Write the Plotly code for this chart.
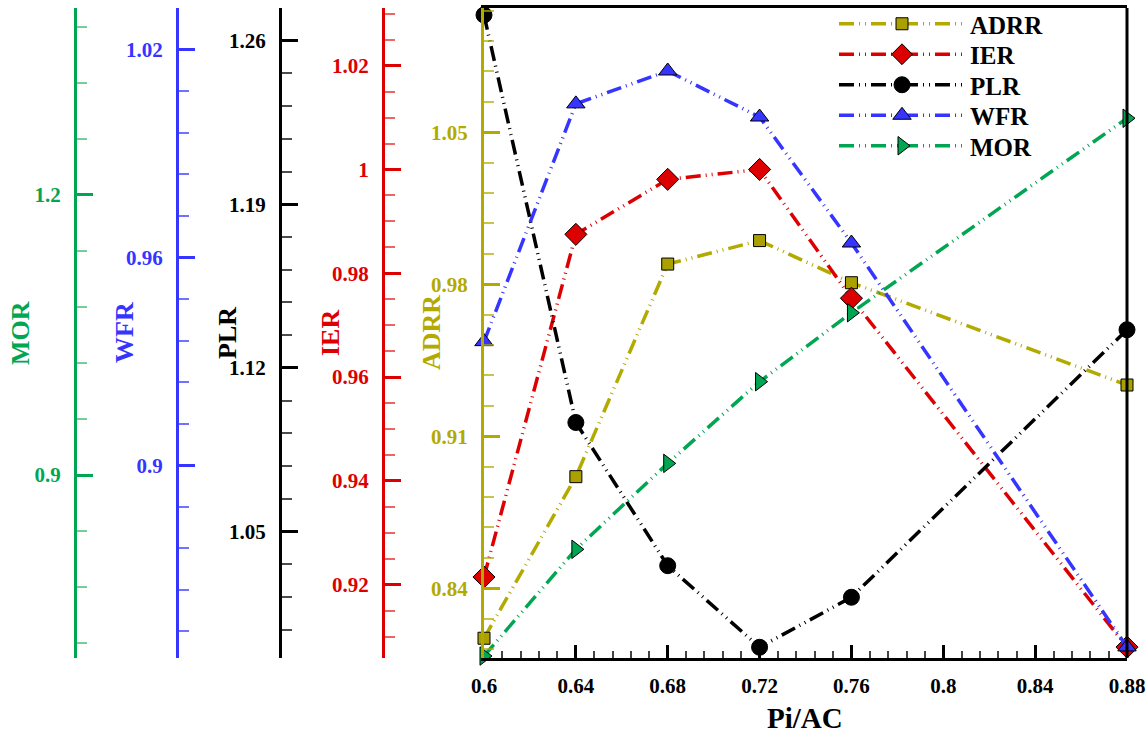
import plotly.graph_objects as go

# ---------------- data ----------------
pi_ac = [0.6, 0.64, 0.68, 0.72, 0.76, 0.88]
adrr = [0.8170, 0.8914, 0.9893, 1.0001, 0.9807, 0.9336]
ier = [0.9215, 0.9875, 0.9981, 1.0000, 0.9752, 0.9080]
plr = [1.2710, 1.0966, 1.0353, 1.0004, 1.0218, 1.1363]
wfr = [0.9357, 1.0044, 1.0139, 1.0006, 0.9642, 0.8475]
mor = [0.7063, 0.8205, 0.9125, 0.9999, 1.0737, 1.2818]

x_ticks = [0.6, 0.64, 0.68, 0.72, 0.76, 0.8, 0.84, 0.88]
x_labels = ["0.6", "0.64", "0.68", "0.72", "0.76", "0.8", "0.84", "0.88"]
adrr_ticks = [0.84, 0.91, 0.98, 1.05]
adrr_labels = ["0.84", "0.91", "0.98", "1.05"]
ier_ticks = [0.92, 0.94, 0.96, 0.98, 1.0, 1.02]
ier_labels = ["0.92", "0.94", "0.96", "0.98", "1", "1.02"]
plr_ticks = [1.05, 1.12, 1.19, 1.26]
plr_labels = ["1.05", "1.12", "1.19", "1.26"]
wfr_ticks = [0.9, 0.96, 1.02]
wfr_labels = ["0.9", "0.96", "1.02"]
mor_ticks = [0.9, 1.2]
mor_labels = ["0.9", "1.2"]

# ---------------- style ----------------
W, H = 1148, 735
PLOT_TOP, PLOT_BOTTOM = 8, 658
OLIVE = "#B3AA00"
OLIVE_M = "#AAA000"
RED = "#DD0000"
BLACK = "#000000"
BLUE = "#3535FF"
GREEN = "#00A651"
FONT = "Liberation Serif"
DASH = "15px,5px,1px,5px,1px,5px"

def fx(px):
    return px / W

def fy(py):
    return (PLOT_BOTTOM - py) / (PLOT_BOTTOM - PLOT_TOP)

fig = go.Figure()

# name, values, axis, line colour, marker colour, symbol, size, legend id, legend row centre (px)
series = [
    ("ADRR", adrr, "y", OLIVE, OLIVE_M, "square", 12, "legend", 24),
    ("IER", ier, "y2", RED, RED, "diamond", 17, "legend2", 54.5),
    ("PLR", plr, "y3", BLACK, BLACK, "circle", 16, "legend3", 85),
    ("WFR", wfr, "y4", BLUE, BLUE, "triangle-up", 16, "legend4", 115.5),
    ("MOR", mor, "y5", GREEN, GREEN, "triangle-right", 16, "legend5", 146),
]
legend_layouts = {}
for name, vals, ax, lc, mc, sym, sz, lg, ly in series:
    fig.add_trace(go.Scatter(
        x=pi_ac, y=vals, name=name, yaxis=ax, mode="lines+markers",
        line=dict(color=lc, width=3.5, dash=DASH),
        marker=dict(symbol=sym, size=sz, color=mc, line=dict(color="black", width=1)),
        cliponaxis=False, legend=lg,
    ))
    legend_layouts[lg] = dict(
        x=fx(834), y=fy(ly), xanchor="left", yanchor="middle",
        bgcolor="rgba(0,0,0,0)", borderwidth=0,
        font=dict(family=FONT, size=25, color="black", weight="bold"),
        itemwidth=126, tracegroupgap=0,
    )

def yax(color, rng, tv, tt, minor_dtick, minor_tick0, pos=None, main=False, minor_color=None):
    d = dict(
        range=rng, showgrid=False, zeroline=False, showline=True, linecolor=color, linewidth=3,
        ticks="inside", ticklen=16, tickwidth=3, tickcolor=color,
        tickmode="array", tickvals=tv, ticktext=tt,
        tickfont=dict(family=FONT, size=21, color=color, weight="bold"),
        ticklabelstandoff=9,
        minor=dict(ticks="inside", ticklen=10, tickwidth=2, tickcolor=minor_color or color,
                   tickmode="linear", dtick=minor_dtick, tick0=minor_tick0, showgrid=False),
        automargin=False, fixedrange=True,
    )
    if not main:
        d.update(overlaying="y", anchor="free", position=pos, side="left")
    else:
        d.update(anchor="x", side="left")
    return d

fig.update_layout(
    width=W, height=H, template="none",
    margin=dict(l=0, r=0, t=PLOT_TOP, b=H - PLOT_BOTTOM),
    paper_bgcolor="white", plot_bgcolor="white",
    font=dict(family=FONT, size=20, color="black", weight="bold"),
    showlegend=True,
    xaxis=dict(
        domain=[fx(484), fx(1127)], range=[0.6, 0.88], showgrid=False, zeroline=False,
        showline=True, linecolor="black", linewidth=3, mirror=True,
        ticks="inside", ticklen=13, tickwidth=3, tickcolor="black",
        tickmode="array", tickvals=x_ticks, ticktext=x_labels,
        tickfont=dict(family=FONT, size=21, color="black", weight="bold"),
        ticklabelstandoff=7,
        minor=dict(ticks="inside", ticklen=7, tickwidth=2, tickcolor="#444444",
                   tickmode="linear", dtick=0.008, tick0=0.6, showgrid=False),
        automargin=False, fixedrange=True,
    ),
    yaxis=yax(OLIVE, [0.8079, 1.1072], adrr_ticks, adrr_labels, 0.014, 0.84, main=True,
              minor_color="rgba(179,170,0,0.7)"),
    yaxis2=yax(RED, [0.9059, 1.0311], ier_ticks, ier_labels, 0.005, 0.92, pos=fx(383),
               minor_color="rgba(221,0,0,0.6)"),
    yaxis3=yax(BLACK, [0.9958, 1.2740], plr_ticks, plr_labels, 0.014, 1.05, pos=fx(280),
               minor_color="rgba(0,0,0,0.7)"),
    yaxis4=yax(BLUE, [0.8443, 1.0321], wfr_ticks, wfr_labels, 0.012, 0.9, pos=fx(177),
               minor_color="rgba(53,53,255,0.7)"),
    yaxis5=yax(GREEN, [0.7042, 1.3998], mor_ticks, mor_labels, 0.06, 0.9, pos=fx(75),
               minor_color="rgba(0,166,81,0.55)"),
    **legend_layouts,
)

# right frame line
fig.add_shape(type="line", xref="x domain", yref="y domain", x0=1, x1=1, y0=0, y1=1,
              line=dict(color="black", width=3), layer="above")

# axis titles
titles = [("MOR", GREEN, 20), ("WFR", BLUE, 124), ("PLR", BLACK, 227),
          ("IER", RED, 330), ("ADRR", OLIVE, 431)]
for txt, col, px in titles:
    fig.add_annotation(text=txt, xref="paper", yref="paper", x=fx(px), y=0.5,
                       xanchor="center", yanchor="middle", textangle=-90, showarrow=False,
                       font=dict(family=FONT, size=26, color=col, weight="bold"))
fig.add_annotation(text="Pi/AC", xref="paper", yref="paper", x=fx(805), y=fy(718),
                   xanchor="center", yanchor="middle", showarrow=False,
                   font=dict(family=FONT, size=29, color="black", weight="bold"))

fig.write_html("out.html")
